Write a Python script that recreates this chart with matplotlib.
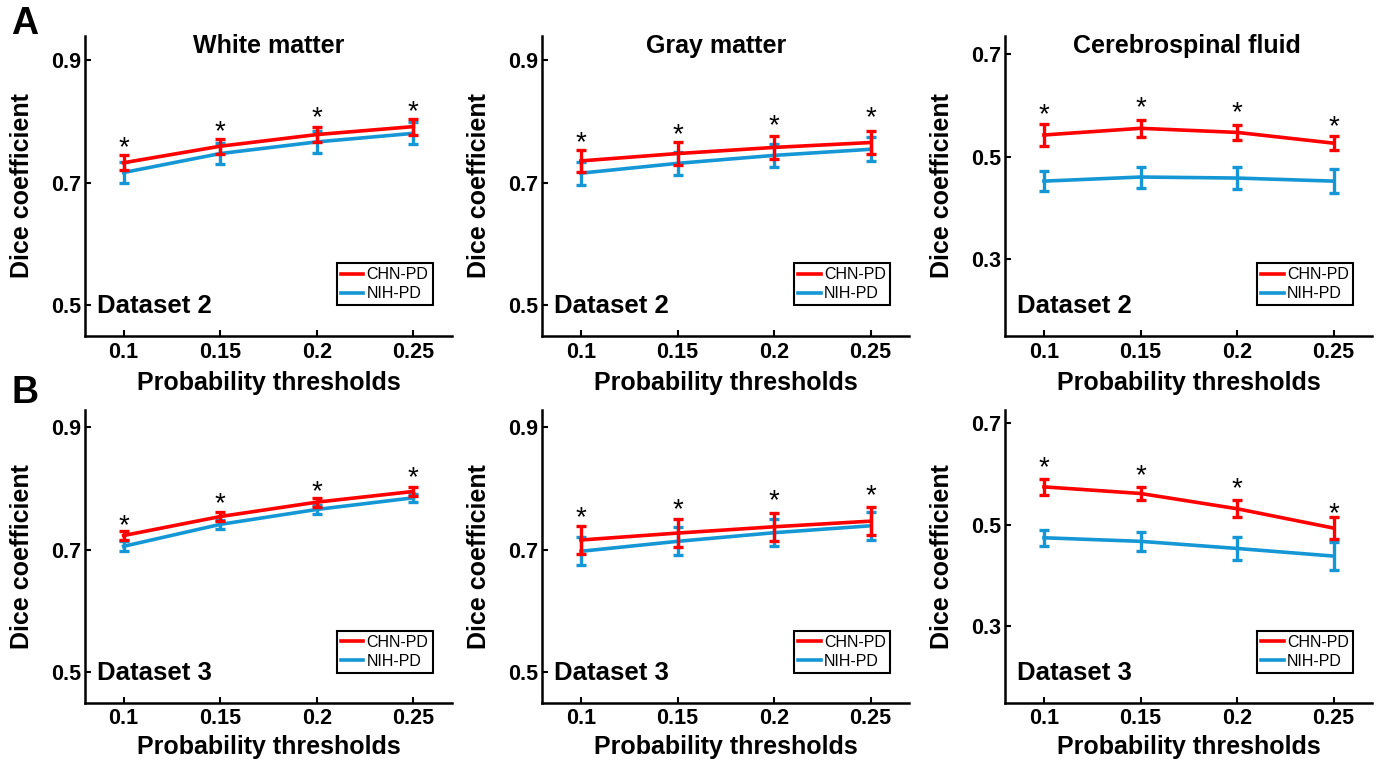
import matplotlib
matplotlib.use('Agg')
import matplotlib.pyplot as plt

plt.rcParams['font.family'] = ['Liberation Sans', 'DejaVu Sans']
plt.rcParams['font.weight'] = 'bold'

# ---------------- data ----------------
thresholds = [0.1, 0.15, 0.2, 0.25]
threshold_labels = ['0.1', '0.15', '0.2', '0.25']
series_names = ['CHN-PD', 'NIH-PD']
tissues = ['White matter', 'Gray matter', 'Cerebrospinal fluid']
datasets = ['Dataset 2', 'Dataset 3']

# Dataset 2
wm2_chn = [0.733, 0.760, 0.779, 0.792]
wm2_chn_err = [0.0126, 0.012, 0.012, 0.013]
wm2_nih = [0.717, 0.748, 0.767, 0.781]
wm2_nih_err = [0.0175, 0.0175, 0.018, 0.018]
wm2_star = [0.772, 0.798, 0.820, 0.830]

gm2_chn = [0.736, 0.748, 0.758, 0.766]
gm2_chn_err = [0.0185, 0.0187, 0.0185, 0.0185]
gm2_nih = [0.716, 0.732, 0.745, 0.755]
gm2_nih_err = [0.0187, 0.0187, 0.019, 0.0198]
gm2_star = [0.780, 0.7935, 0.8076, 0.8207]

csf2_chn = [0.542, 0.555, 0.547, 0.526]
csf2_chn_err = [0.022, 0.017, 0.014, 0.0137]
csf2_nih = [0.452, 0.460, 0.458, 0.452]
csf2_nih_err = [0.020, 0.0205, 0.022, 0.0238]
csf2_star = [0.599, 0.612, 0.602, 0.574]

# Dataset 3
wm3_chn = [0.723, 0.754, 0.7775, 0.795]
wm3_chn_err = [0.0073, 0.0073, 0.0073, 0.0068]
wm3_nih = [0.7054, 0.7412, 0.7656, 0.7846]
wm3_nih_err = [0.0081, 0.0079, 0.0073, 0.0068]
wm3_star = [0.7537, 0.7883, 0.809, 0.8306]

gm3_chn = [0.7157, 0.727, 0.7373, 0.7465]
gm3_chn_err = [0.0224, 0.0224, 0.023, 0.0232]
gm3_nih = [0.6973, 0.7135, 0.7276, 0.7389]
gm3_nih_err = [0.0227, 0.0227, 0.0224, 0.0227]
gm3_star = [0.766, 0.7795, 0.793, 0.8022]

csf3_chn = [0.574, 0.561, 0.531, 0.493]
csf3_chn_err = [0.016, 0.0128, 0.017, 0.022]
csf3_nih = [0.474, 0.467, 0.453, 0.438]
csf3_nih_err = [0.0154, 0.019, 0.023, 0.027]
csf3_star = [0.628, 0.6135, 0.5866, 0.539]

yticks_tissue = [[0.5, 0.7, 0.9], [0.5, 0.7, 0.9], [0.3, 0.5, 0.7]]
ylims = [[(0.45, 0.940), (0.45, 0.940), (0.15, 0.735)],
         [(0.45, 0.928), (0.45, 0.928), (0.15, 0.725)]]

panels = [
    [(wm2_chn, wm2_chn_err, wm2_nih, wm2_nih_err, wm2_star),
     (gm2_chn, gm2_chn_err, gm2_nih, gm2_nih_err, gm2_star),
     (csf2_chn, csf2_chn_err, csf2_nih, csf2_nih_err, csf2_star)],
    [(wm3_chn, wm3_chn_err, wm3_nih, wm3_nih_err, wm3_star),
     (gm3_chn, gm3_chn_err, gm3_nih, gm3_nih_err, gm3_star),
     (csf3_chn, csf3_chn_err, csf3_nih, csf3_nih_err, csf3_star)],
]

# ---------------- style ----------------
RED = '#ff0000'
BLUE = '#1597d5'
W, H = 1380, 761
fig = plt.figure(figsize=(W / 100, H / 100), dpi=100)

col_left_px = [85, 542.3, 1005.3]
col_w_px = 367
row_top_px = [36, 410]
row_bot_px = [336, 702.7]
title_x = [0.5, 0.473, 0.494]

for r in range(2):
    for c in range(3):
        left = col_left_px[c] / W
        bottom = (H - row_bot_px[r]) / H
        height = (row_bot_px[r] - row_top_px[r]) / H
        ax = fig.add_axes([left, bottom, col_w_px / W, height])
        chn, chn_e, nih, nih_e, stars = panels[r][c]

        ax.errorbar(thresholds, nih, yerr=nih_e, color=BLUE, lw=2.6,
                    elinewidth=2.4, capsize=3.8, capthick=2.4, label=series_names[1], zorder=2)
        ax.errorbar(thresholds, chn, yerr=chn_e, color=RED, lw=2.6,
                    elinewidth=2.4, capsize=3.8, capthick=2.4, label=series_names[0], zorder=3)

        for x, s in zip(thresholds, stars):
            ax.annotate('*', xy=(x, s), xytext=(0, -6.5), textcoords='offset points',
                        ha='center', va='center', fontsize=20, fontweight='normal')

        ax.set_xlim(0.08, 0.27)
        ax.set_ylim(*ylims[r][c])
        ax.set_xticks(thresholds)
        ax.set_xticklabels(threshold_labels)
        ax.set_yticks(yticks_tissue[c])
        ax.set_yticklabels(['%.1f' % v for v in yticks_tissue[c]])

        for side in ['top', 'right']:
            ax.spines[side].set_visible(False)
        for side in ['left', 'bottom']:
            ax.spines[side].set_linewidth(1.8)
        ax.tick_params(axis='both', direction='in', length=4, width=1.5,
                       labelsize=15.5)
        ax.tick_params(axis='x', pad=4)
        ax.tick_params(axis='y', pad=3)

        ax.set_ylabel('Dice coefficient', fontsize=18, fontweight='bold')
        ax.yaxis.set_label_coords(-0.1725, 0.5)
        ax.yaxis.label.set_va('center')
        ax.set_xlabel('Probability thresholds', fontsize=18, fontweight='bold')
        ax.xaxis.set_label_coords(0.5, -0.157 if r == 0 else -0.152)
        ax.xaxis.label.set_va('center')

        if r == 0:
            ax.text(title_x[c], 0.967, tissues[c], transform=ax.transAxes,
                    ha='center', va='center', fontsize=18, fontweight='bold')

        ax.text(0.033, 0.1, datasets[r], transform=ax.transAxes, ha='left',
                va='center', fontsize=18.5, fontweight='bold')

        handles, labels = ax.get_legend_handles_labels()
        order = [labels.index(n) for n in series_names]
        leg = ax.legend([handles[i][0] for i in order], [labels[i] for i in order],
                        loc='lower right', bbox_to_anchor=(0.947, 0.1027),
                        borderaxespad=0, fancybox=False, framealpha=1,
                        edgecolor='black', prop={'size': 11.5, 'weight': 'normal'},
                        handlelength=1.4, handletextpad=0.2, labelspacing=0.25,
                        borderpad=0.25)
        leg.get_frame().set_linewidth(1.5)
        for line in leg.get_lines():
            line.set_linewidth(2.6)

fig.text(25 / W, 1 - 23.5 / H, 'A', fontsize=27, fontweight='bold', ha='center', va='center')
fig.text(24.7 / W, 1 - 393.3 / H, 'B', fontsize=27, fontweight='bold', ha='center', va='center')

fig.savefig('out.png', dpi=100)
